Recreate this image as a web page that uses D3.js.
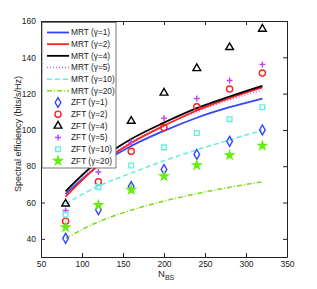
<meta charset="utf-8">
<style>
body { margin: 0; background: #fff; }
text { font-family: "Liberation Sans", Arial, sans-serif; }
</style>
<body>
<script src="https://cdn.jsdelivr.net/npm/d3@7"></script>
<script>
// N_BS values
var nbs = [80, 120, 160, 200, 240, 280, 320];

// MRT curves
var mrt1  = [64.8, 80.2, 91.1, 99.5, 106.7, 112.5, 117.3];
var mrt2  = [63.3, 80.5, 92.8, 102.3, 110.7, 117.5, 123.4];
var mrt4  = [66.2, 83.0, 95.0, 104.0, 112.0, 118.4, 124.3];
var mrt5  = [64.5, 81.5, 93.5, 102.5, 110.0, 116.5, 122.0];
var mrt10 = [59.3, 69.0, 76.2, 83.0, 89.0, 94.5, 99.8];
var mrt20 = [40.3, 49.4, 55.8, 60.8, 64.9, 68.4, 71.4];

// ZFT markers
var zft1  = [40.3, 56.0, 68.8, 78.2, 86.5, 93.7, 100.0];
var zft2  = [49.7, 71.4, 88.2, 101.3, 112.7, 122.5, 131.3];
var zft4  = [59.3, 85.0, 104.9, 120.4, 133.9, 145.5, 155.6];
var zft5  = [55.6, 76.8, 93.3, 106.5, 117.3, 127.2, 136.1];
var zft10 = [53.4, 68.5, 80.4, 90.4, 98.3, 105.9, 112.5];
var zft20 = [46.4, 58.7, 67.0, 74.5, 80.6, 86.1, 91.3];

var xTicks = [50, 100, 150, 200, 250, 300, 350];
var yTicks = [40, 60, 80, 100, 120, 140, 160];

var margin = {top: 21, right: 30, bottom: 32, left: 41},
    width = 317 - margin.left - margin.right,
    height = 289 - margin.top - margin.bottom;

var x = d3.scaleLinear().domain([50, 350]).range([0, width]);
var y = d3.scaleLinear().domain([30, 160]).range([height, 0]);

var svg = d3.select("body").append("svg")
    .attr("width", 317)
    .attr("height", 289)
  .append("g")
    .attr("transform", "translate(" + margin.left + "," + margin.top + ")");

// axes, matlab style: ticks inside, box all round
var fs = "8.5px";
svg.append("g")
    .attr("transform", "translate(0," + height + ")")
    .call(d3.axisBottom(x).tickValues(xTicks).tickSize(-4).tickPadding(4).tickSizeOuter(0))
    .call(g => g.selectAll("text").style("font-size", fs).attr("fill", "#222"));
svg.append("g")
    .call(d3.axisLeft(y).tickValues(yTicks).tickSize(-4).tickPadding(5).tickSizeOuter(0))
    .call(g => g.selectAll("text").style("font-size", fs).attr("fill", "#222"));
svg.append("g")
    .call(d3.axisTop(x).tickValues(xTicks).tickSize(-4).tickFormat("").tickSizeOuter(0));
svg.append("g")
    .attr("transform", "translate(" + width + ",0)")
    .call(d3.axisRight(y).tickValues(yTicks).tickSize(-4).tickFormat("").tickSizeOuter(0));
svg.selectAll(".domain").attr("stroke", "#222");
svg.selectAll(".tick line").attr("stroke", "#222");

// custom plus marker
var plusSym = {
  draw: function(ctx, size) {
    var r = Math.sqrt(size) / 2;
    ctx.moveTo(-r, 0); ctx.lineTo(r, 0);
    ctx.moveTo(0, -r); ctx.lineTo(0, r);
  }
};

var lines = [
  {name: "MRT (\u03b3=1)", vals: mrt1, color: "#3344ff", dash: null, w: 1.8},
  {name: "MRT (\u03b3=2)", vals: mrt2, color: "#ff2020", dash: null, w: 1.8},
  {name: "MRT (\u03b3=4)", vals: mrt4, color: "#000000", dash: null, w: 1.8},
  {name: "MRT (\u03b3=5)", vals: mrt5, color: "#cc55ff", dash: "1,2", w: 1.3},
  {name: "MRT (\u03b3=10)", vals: mrt10, color: "#66eedd", dash: "5,3", w: 1.5},
  {name: "MRT (\u03b3=20)", vals: mrt20, color: "#77dd11", dash: "5,2,1,2", w: 1.5}
];
var marks = [
  {name: "ZFT (\u03b3=1)", vals: zft1, color: "#3344ff", sym: d3.symbolDiamond, size: 28},
  {name: "ZFT (\u03b3=2)", vals: zft2, color: "#ff2020", sym: d3.symbolCircle, size: 30},
  {name: "ZFT (\u03b3=4)", vals: zft4, color: "#000000", sym: d3.symbolTriangle, size: 26},
  {name: "ZFT (\u03b3=5)", vals: zft5, color: "#bb44ff", sym: plusSym, size: 36},
  {name: "ZFT (\u03b3=10)", vals: zft10, color: "#66eedd", sym: d3.symbolSquare, size: 22},
  {name: "ZFT (\u03b3=20)", vals: zft20, color: "#66ee11", sym: d3.symbolStar, size: 20, fill: true}
];

var line = d3.line()
    .x(function(d, i) { return x(nbs[i]); })
    .y(function(d) { return y(d); })
    .curve(d3.curveMonotoneX);

// draw lines back to front so the top ones look like the picture
[5, 4, 3, 0, 1, 2].forEach(function(k) {
  var s = lines[k];
  svg.append("path")
      .attr("d", line(s.vals))
      .attr("fill", "none")
      .attr("stroke", s.color)
      .attr("stroke-width", s.w)
      .attr("stroke-dasharray", s.dash);
});

marks.forEach(function(s) {
  svg.selectAll(null)
      .data(s.vals)
    .enter().append("path")
      .attr("transform", function(d, i) { return "translate(" + x(nbs[i]) + "," + y(d) + ")"; })
      .attr("d", d3.symbol().type(s.sym).size(s.size))
      .attr("fill", s.fill ? s.color : "none")
      .attr("stroke", s.color)
      .attr("stroke-width", 1.4);
});

// legend
var lg = svg.append("g").attr("transform", "translate(1,1.5)");
lg.append("rect")
    .attr("width", 74)
    .attr("height", 145.5)
    .attr("fill", "#fff")
    .attr("stroke", "#555")
    .attr("stroke-width", 0.8);
var rowY = function(i) { return 10 + i * 11.67; };
lines.forEach(function(s, i) {
  lg.append("line")
      .attr("x1", 5).attr("x2", 27)
      .attr("y1", rowY(i)).attr("y2", rowY(i))
      .attr("stroke", s.color)
      .attr("stroke-width", s.w)
      .attr("stroke-dasharray", s.dash);
  lg.append("text")
      .attr("x", 29).attr("y", rowY(i))
      .attr("dy", "0.35em")
      .style("font-size", "8.3px")
      .attr("fill", "#222")
      .text(s.name);
});
marks.forEach(function(s, j) {
  var i = j + 6;
  lg.append("path")
      .attr("transform", "translate(16," + rowY(i) + ")")
      .attr("d", d3.symbol().type(s.sym).size(s.size))
      .attr("fill", s.fill ? s.color : "none")
      .attr("stroke", s.color)
      .attr("stroke-width", 1.4);
  lg.append("text")
      .attr("x", 29).attr("y", rowY(i))
      .attr("dy", "0.35em")
      .style("font-size", "8.3px")
      .attr("fill", "#222")
      .text(s.name);
});

// axis labels
var xl = svg.append("text")
    .attr("x", width / 2 - 6)
    .attr("y", height + 20)
    .style("font-size", "9.5px")
    .attr("fill", "#222");
xl.append("tspan").text("N");
xl.append("tspan").attr("dy", 3).style("font-size", "7px").text("BS");

svg.append("text")
    .attr("transform", "rotate(-90)")
    .attr("x", -(134 - margin.top))
    .attr("y", -20)
    .attr("text-anchor", "middle")
    .style("font-size", "9px")
    .attr("fill", "#222")
    .text("Spectral efficiency (bits/s/Hz)");
</script>
</body>
